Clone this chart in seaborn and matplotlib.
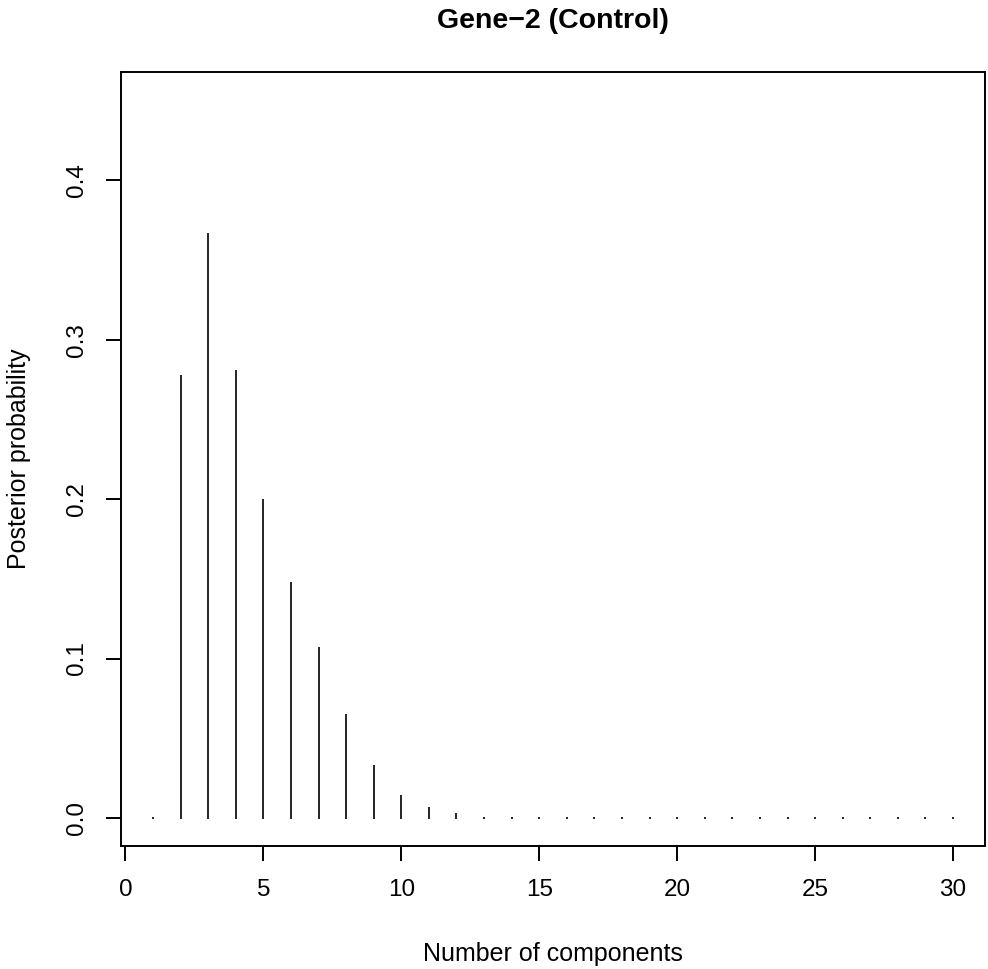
import numpy as np
import pandas as pd
import matplotlib
matplotlib.use("Agg")
import matplotlib.pyplot as plt
import seaborn as sns

# posterior probability for each number of components
components = list(range(1, 31))
posterior = [0.0, 0.278, 0.367, 0.281, 0.200, 0.148, 0.107, 0.065, 0.033, 0.0145,
             0.0066, 0.003, 0.0008, 0.0003, 0.0002, 0.0001, 0.0001, 0.0001, 0.0001, 0.0001,
             0.0001, 0.0001, 0.0001, 0.0001, 0.0001, 0.0001, 0.0001, 0.0001, 0.0001, 0.0001]

df = pd.DataFrame({'k': components, 'p': posterior})

sns.set_style("white")
plt.rcParams['font.family'] = ['Liberation Sans', 'DejaVu Sans']
plt.rcParams['text.color'] = 'black'
plt.rcParams['axes.labelcolor'] = 'black'
plt.rcParams['xtick.color'] = 'black'
plt.rcParams['ytick.color'] = 'black'

fig = plt.figure(figsize=(9.88, 9.69), dpi=100)
ax = fig.add_axes([0.1225, 0.127, 0.8745, 0.7987])

# type = "h" style spikes
ax.vlines(df['k'], -0.0006, df['p'].clip(lower=0.0006), color='black', linewidth=1.2)

ax.set_xlim(-0.16, 31.16)
ax.set_ylim(-0.0176, 0.468)
ax.set_xticks([0, 5, 10, 15, 20, 25, 30])
ax.set_yticks([0.0, 0.1, 0.2, 0.3, 0.4])
ax.set_yticklabels(['0.0', '0.1', '0.2', '0.3', '0.4'], rotation=90, va='center')

for s in ax.spines.values():
    s.set_color('black')
    s.set_linewidth(1.4)
ax.tick_params(axis='both', direction='out', length=11, width=1.4, color='black',
               labelcolor='black', labelsize=17.5, pad=13, bottom=True, left=True)

ax.set_xlabel('Number of components', fontsize=18, labelpad=29)
ax.set_ylabel('Posterior probability', fontsize=18, labelpad=25)
ax.set_title('Gene\u22122 (Control)', fontsize=20.5, fontweight='bold', pad=32, color='black')

fig.savefig('out.png', dpi=100)
